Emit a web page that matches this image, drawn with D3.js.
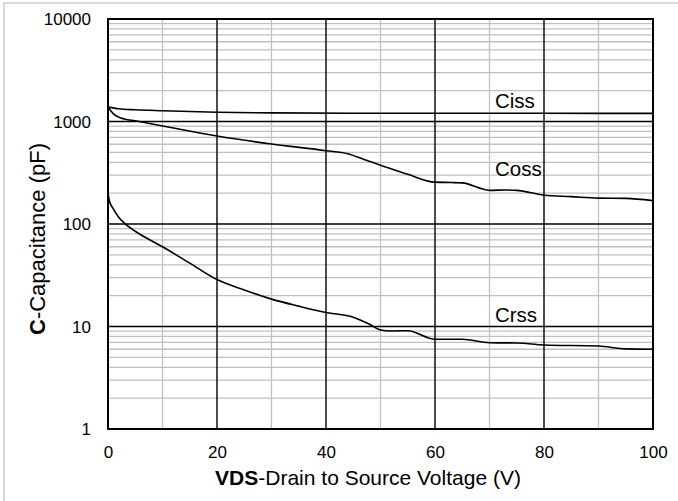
<!DOCTYPE html>
<html>
<head>
<meta charset="utf-8">
<script src="https://cdn.jsdelivr.net/npm/d3@7"></script>
<style>
  html, body { margin: 0; padding: 0; background: #fff; }
  svg { display: block; }
  text { font-family: "Liberation Sans", Arial, sans-serif; fill: #000; }
</style>
</head>
<body>
<svg id="chart" width="678" height="501"></svg>
<script>
// Drain-source voltage (V) and capacitance (pF) for each curve
const cissV = [0, 2, 5, 10, 20, 30, 45, 60, 80, 100];
const cissC = [1380, 1330, 1300, 1272, 1230, 1213, 1205, 1203, 1202, 1200];

const cossV = [0, 0.5, 1, 2, 3, 5, 10, 20, 30, 40, 44, 47, 50, 55, 60, 63, 65, 70, 73, 75, 80, 85, 90, 95, 100];
const cossC = [1380, 1270, 1185, 1100, 1060, 1015, 905, 722, 603, 519, 485, 425, 375, 305, 256, 254, 252, 213, 215, 213, 191, 185, 179, 178, 169];

const crssV = [0, 0.3, 1, 2, 3, 5, 10, 15, 20, 25, 30, 35, 40, 45, 48, 50, 52, 55, 60, 65, 70, 75, 80, 90, 95, 100];
const crssC = [200, 165, 140, 116, 102, 85, 60, 41.5, 28.7, 22.7, 18.5, 15.8, 13.7, 12.3, 10.5, 9.25, 9.05, 9.1, 7.5, 7.5, 6.95, 6.9, 6.6, 6.45, 6.05, 6.0];

const seriesNames = ["Ciss", "Coss", "Crss"];
// label anchor for each curve name (V, pF)
const labelV = [71, 71, 71];
const labelC = [1355, 292, 11.1];

const xTicks = [0, 20, 40, 60, 80, 100];
const yTicks = [1, 10, 100, 1000, 10000];
const yTickLabels = ["1", "10", "100", "1000", "10000"];

const svg = d3.select("#chart");
const W = 678, H = 501;
const m = { left: 108, right: 25, top: 19, bottom: 72 };
const pw = W - m.left - m.right, ph = H - m.top - m.bottom;

// outer frame
svg.append("rect")
  .attr("x", 4).attr("y", 3).attr("width", W + 10).attr("height", H + 10)
  .attr("fill", "none").attr("stroke", "#d9d9d9").attr("stroke-width", 2);

const x = d3.scaleLinear().domain([0, 100]).range([m.left, m.left + pw]);
const y = d3.scaleLog().domain([1, 10000]).range([m.top + ph, m.top]);

const g = svg.append("g");

// minor horizontal grid (2..9 in each decade)
const minorY = [];
for (let d = 1; d < 10000; d *= 10) for (let k = 2; k <= 9; k++) minorY.push(d * k);
g.selectAll(".hmin").data(minorY).join("line")
  .attr("x1", x(0)).attr("x2", x(100))
  .attr("y1", d => y(d)).attr("y2", d => y(d))
  .attr("stroke", "#c0c0c0").attr("stroke-width", 1.3);

// minor vertical grid
const minorX = [10, 30, 50, 70, 90];
g.selectAll(".vmin").data(minorX).join("line")
  .attr("x1", d => x(d)).attr("x2", d => x(d))
  .attr("y1", y(1)).attr("y2", y(10000))
  .attr("stroke", "#c0c0c0").attr("stroke-width", 1.3);

// major grid
g.selectAll(".hmaj").data(yTicks.slice(1, -1)).join("line")
  .attr("x1", x(0)).attr("x2", x(100))
  .attr("y1", d => y(d)).attr("y2", d => y(d))
  .attr("stroke", "#000").attr("stroke-width", 1.4);
g.selectAll(".vmaj").data(xTicks.slice(1, -1)).join("line")
  .attr("x1", d => x(d)).attr("x2", d => x(d))
  .attr("y1", y(1)).attr("y2", y(10000))
  .attr("stroke", "#000").attr("stroke-width", 1.4);

// plot border
g.append("rect")
  .attr("x", x(0)).attr("y", y(10000))
  .attr("width", x(100) - x(0)).attr("height", y(1) - y(10000))
  .attr("fill", "none").attr("stroke", "#000").attr("stroke-width", 2);

// axes (labels only)
const xAxis = d3.axisBottom(x).tickValues(xTicks).tickSize(0).tickPadding(0).tickFormat(d3.format("d"));
const xa = svg.append("g").attr("transform", `translate(0,${y(1)})`).call(xAxis);
xa.select(".domain").remove();
xa.selectAll("text").attr("dy", null).attr("y", 29).attr("font-size", 17)
  .style("font-family", '"Liberation Sans", Arial, sans-serif');

const yAxis = d3.axisLeft(y).tickValues(yTicks).tickSize(0).tickPadding(0)
  .tickFormat((d, i) => yTickLabels[i]);
const ya = svg.append("g").attr("transform", `translate(${m.left - 17},0)`).call(yAxis);
ya.select(".domain").remove();
ya.selectAll("text").attr("dy", "0.35em").attr("font-size", 17)
  .style("font-family", '"Liberation Sans", Arial, sans-serif');

// curves
const line = d3.line().x(d => x(d[0])).y(d => y(d[1])).curve(d3.curveMonotoneX);
const series = [
  d3.zip(cissV, cissC),
  d3.zip(cossV, cossC),
  d3.zip(crssV, crssC)
];
svg.append("g").selectAll("path").data(series).join("path")
  .attr("d", line).attr("fill", "none").attr("stroke", "#000").attr("stroke-width", 1.6);

// curve names
svg.append("g").selectAll("text").data(seriesNames).join("text")
  .attr("x", (d, i) => x(labelV[i])).attr("y", (d, i) => y(labelC[i]))
  .attr("font-size", 20.5).text(d => d);

// axis titles
const xt = svg.append("text").attr("x", 368).attr("y", 485)
  .attr("text-anchor", "middle").attr("font-size", 21);
xt.append("tspan").attr("font-weight", "bold").text("VDS");
xt.append("tspan").text("-Drain to Source Voltage (V)");

const yt = svg.append("text").attr("transform", "translate(45,239) rotate(-90)")
  .attr("text-anchor", "middle").attr("font-size", 22);
yt.append("tspan").attr("font-weight", "bold").text("C");
yt.append("tspan").text("-Capacitance (pF)");
</script>
</body>
</html>
